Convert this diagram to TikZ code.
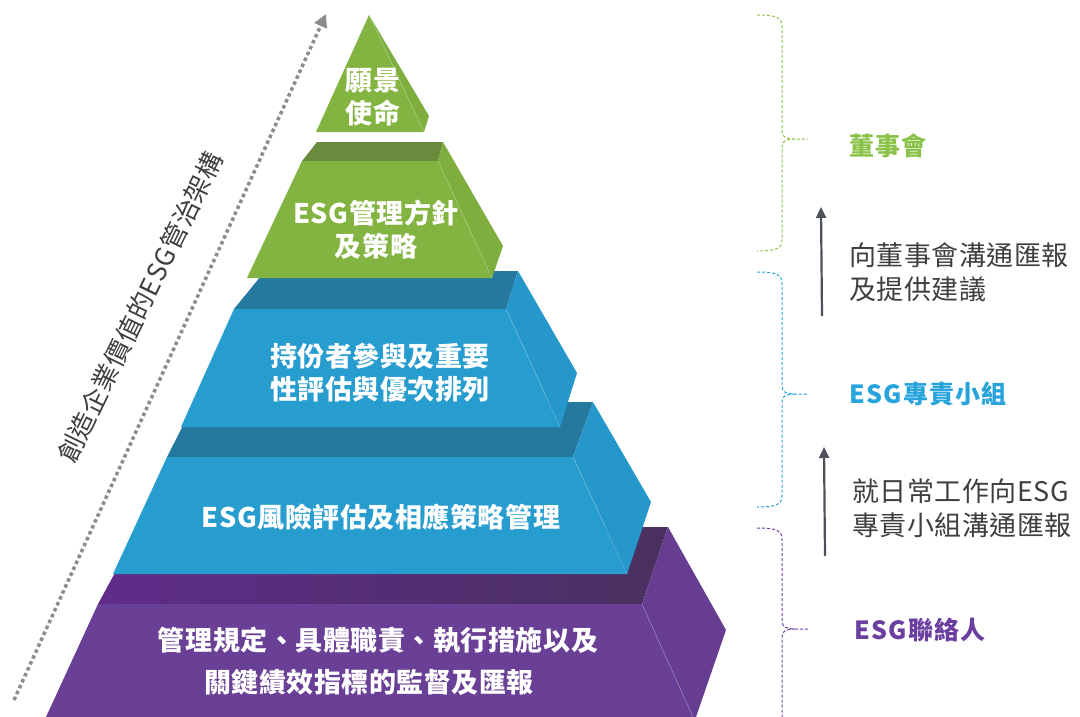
\documentclass[tikz,border=0pt]{standalone}
\usepackage{fontspec}
\setmainfont{Noto Sans CJK TC}[LetterSpace=2]
\newfontfamily\rolefont{Noto Sans CJK TC}[LetterSpace=5]
\usetikzlibrary{arrows.meta}
\usetikzlibrary{positioning}

\definecolor{grnfront}{HTML}{83B341}
\definecolor{grnside}{HTML}{7FAE3F}
\definecolor{grntop}{HTML}{6A8A3E}
\definecolor{blufront}{HTML}{279CCF}
\definecolor{bluside}{HTML}{2697CA}
\definecolor{blutop}{HTML}{26799E}
\definecolor{purfront}{HTML}{6A3F96}
\definecolor{purside}{HTML}{673D92}
\definecolor{purtopl}{HTML}{5E2C8A}
\definecolor{purtopr}{HTML}{4A3060}
\definecolor{grnlabel}{HTML}{8BC24A}
\definecolor{blulabel}{HTML}{28A4DD}
\definecolor{purlabel}{HTML}{6B3FA0}
\definecolor{notegray}{HTML}{3F3F3F}
\definecolor{flowgray}{HTML}{4D5159}

\begin{document}
\begin{tikzpicture}[x=1pt,y=-1pt,
    tier/.style={white,font=\bfseries\fontsize{27}{33}\selectfont,align=center,inner sep=0pt},
    role/.style={font=\rolefont\bfseries\fontsize{25}{30}\selectfont,inner sep=0pt},
    note/.style={notegray,font=\fontsize{27}{34}\selectfont,align=left,anchor=west,inner sep=0pt},
    flow/.style={flowgray,line width=2.2pt,-{Triangle[length=11pt,width=10pt]}},
    brace/.style={dashed,dash pattern=on 3pt off 2pt,line width=1pt},
    edge/.style={white,opacity=0.25,line width=0.6pt}]
    \fill[white] (0,0) rectangle (1080,717);
    \useasboundingbox (0,0) rectangle (1080,717);

    % bottom tier
    \shade[left color=purtopl,right color=purtopr] (140,527) -- (668,527) -- (642,604) -- (98,604) -- cycle;
    \fill[purside] (642,604) -- (668,527) -- (726,630) -- (696,717) -- (693,717) -- cycle;
    \fill[purfront] (98,604) -- (642,604) -- (693,717) -- (46,717) -- cycle;
    \draw[edge] (642,604) -- (693,717);
    % fourth tier
    \fill[blutop] (195,402) -- (593,402) -- (573,457) -- (167,457) -- cycle;
    \fill[bluside] (573,457) -- (593,402) -- (651,502) -- (627,574) -- cycle;
    \fill[blufront] (167,457) -- (573,457) -- (627,574) -- (113,574) -- cycle;
    \draw[edge] (573,457) -- (627,574);
    % third tier
    \fill[blutop] (265,271) -- (518,271) -- (506,309) -- (234,309) -- cycle;
    \fill[bluside] (506,309) -- (518,271) -- (577,373) -- (560,427) -- cycle;
    \fill[blufront] (234,309) -- (506,309) -- (560,427) -- (181,427) -- cycle;
    \draw[edge] (506,309) -- (560,427);
    % second tier
    \fill[grntop] (317,142) -- (443,142) -- (438,161) -- (302,161) -- cycle;
    \fill[grnside] (438,161) -- (443,142) -- (503,246) -- (492,278) -- cycle;
    \fill[grnfront] (302,161) -- (438,161) -- (492,278) -- (247,278) -- cycle;
    \draw[edge] (438,161) -- (492,278);
    % apex
    \fill[grnside] (369,15) -- (429,116) -- (424,132) -- cycle;
    \fill[grnfront] (369,15) -- (424,132) -- (316,132) -- cycle;
    \draw[edge] (369,15) -- (424,132);

    \node[tier] (vision) at (373,97) {願景\\使命};
    \node[tier] (policy) at (376,230) {ESG管理方針\\及策略};
    \node[tier] (materiality) at (380,373) {持份者參與及重要\\性評估與優次排列};
    \node[tier] (risk) at (381,517) {ESG風險評估及相應策略管理};
    \node[tier,font=\bfseries\fontsize{27}{42}\selectfont] (monitor) at (378,661)
        {管理規定、具體職責、執行措施以及\\關鍵績效指標的監督及匯報\hspace*{18pt}};

    % value arrow
    \coordinate (base) at (14,700);
    \coordinate (peak) at (326,14);
    \draw[gray!90,line width=3.5pt,dash pattern=on 3.5pt off 3pt,
          -{Triangle[length=13pt,width=13pt]}] (base) -- (peak);
    \node[rotate=64,notegray,font=\fontsize{26}{30}\selectfont] (slogan) at (140,307)
        {創造企業價值的ESG管治架構};

    % braces
    \foreach \top/\tip/\bot/\col in {15/139/251/grnlabel, 272/394/507/blulabel, 528/629/790/purlabel}
        \draw[brace,\col] (757,\top) .. controls (778,\top) and (782,\top+3) .. (782,\top+12)
            -- (782,\tip-8) .. controls (782,\tip-2) and (786,\tip) .. (795,\tip) -- (808,\tip)
            (795,\tip) .. controls (786,\tip) and (782,\tip+2) .. (782,\tip+8)
            -- (782,\bot-12) .. controls (782,\bot-3) and (778,\bot) .. (757,\bot);

    \node[role,grnlabel] (board) at (888,146) {董事會};
    \node[role,blulabel] (team) at (928,394) {ESG專責小組};
    \node[role,purlabel] (liaison) at (920,630) {ESG聯絡人};

    \coordinate (upA0) at (822,316);
    \coordinate (upA1) at (821,207);
    \coordinate (upB0) at (825,556);
    \coordinate (upB1) at (824,447);
    \draw[flow] (upA0) -- (upA1);
    \draw[flow] (upB0) -- (upB1);
    \node[note] (toboard) at (849,272) {向董事會溝通匯報\\及提供建議};
    \node[note] (toteam) at (852,508) {就日常工作向ESG\\專責小組溝通匯報};
\end{tikzpicture}
\end{document}
